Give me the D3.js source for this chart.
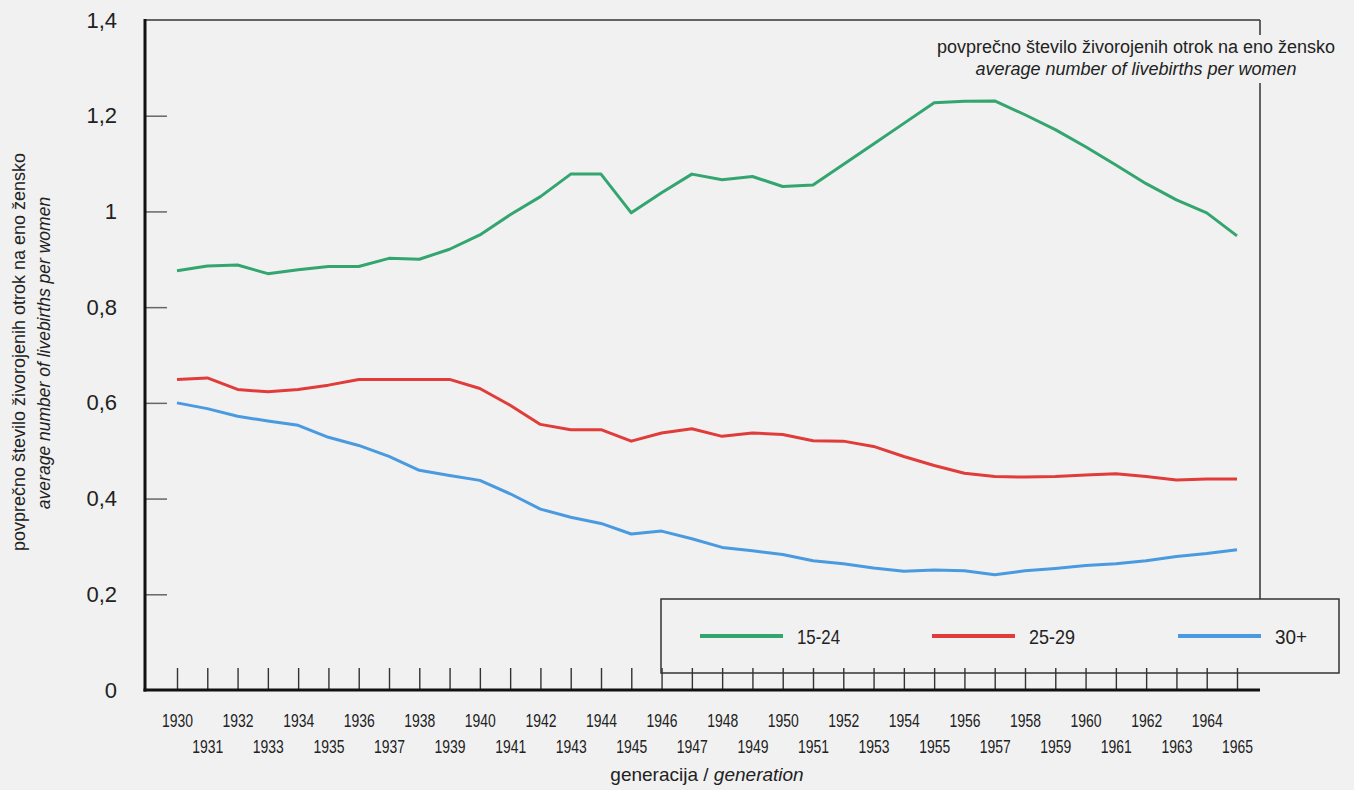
<!DOCTYPE html>
<html>
<head>
<meta charset="utf-8">
<script src="https://cdn.jsdelivr.net/npm/d3@7"></script>
<style>
  body { margin: 0; background: #f1f1f1; }
  svg { display: block; }
  text { fill: #222; }
</style>
</head>
<body>
<div id="container"></div>
<script>
// generacije 1930 - 1965
const years = [1930, 1931, 1932, 1933, 1934, 1935, 1936, 1937, 1938, 1939,
               1940, 1941, 1942, 1943, 1944, 1945, 1946, 1947, 1948, 1949,
               1950, 1951, 1952, 1953, 1954, 1955, 1956, 1957, 1958, 1959,
               1960, 1961, 1962, 1963, 1964, 1965];

const age1524 = [0.876, 0.886, 0.888, 0.870, 0.878, 0.885, 0.885, 0.902, 0.900, 0.921,
                 0.951, 0.993, 1.031, 1.078, 1.078, 0.997, 1.039, 1.078, 1.066, 1.073,
                 1.052, 1.055, 1.098, 1.141, 1.184, 1.227, 1.230, 1.231, 1.202, 1.171,
                 1.135, 1.097, 1.058, 1.024, 0.997, 0.949];
const age2529 = [0.649, 0.652, 0.628, 0.623, 0.628, 0.637, 0.649, 0.649, 0.649, 0.649,
                 0.630, 0.595, 0.555, 0.544, 0.544, 0.520, 0.537, 0.546, 0.530, 0.537,
                 0.534, 0.521, 0.520, 0.509, 0.488, 0.469, 0.453, 0.446, 0.445, 0.446,
                 0.449, 0.452, 0.446, 0.439, 0.441, 0.441];
const age30 = [0.600, 0.588, 0.572, 0.562, 0.553, 0.528, 0.511, 0.488, 0.459, 0.448,
               0.438, 0.410, 0.378, 0.361, 0.348, 0.326, 0.332, 0.316, 0.298, 0.291,
               0.283, 0.270, 0.264, 0.255, 0.248, 0.251, 0.249, 0.241, 0.249, 0.254,
               0.260, 0.264, 0.270, 0.279, 0.285, 0.293];

const seriesNames = ['15-24', '25-29', '30+'];
const yTicks = [0, 0.2, 0.4, 0.6, 0.8, 1, 1.2, 1.4];
const yTickLabels = ['0', '0,2', '0,4', '0,6', '0,8', '1', '1,2', '1,4'];

const WIDTH = 1354;
const HEIGHT = 790;
const COLORS = ['#33a56f', '#e03c3a', '#4a9ae0'];
const SANS = '"Liberation Sans", Arial, Helvetica, sans-serif';

const svg = d3.select('#container')
  .append('svg')
  .attr('width', WIDTH)
  .attr('height', HEIGHT);

const x = d3.scaleLinear().domain([1930, 1965]).range([177, 1237]);
const y = d3.scaleLinear().domain([0, 1.4]).range([690, 20]);

const AX_LEFT = 145, AX_RIGHT = 1260;

// okvir zgoraj in desno
svg.append('line')
  .attr('x1', AX_LEFT).attr('x2', AX_RIGHT)
  .attr('y1', y(1.4)).attr('y2', y(1.4))
  .attr('stroke', '#333').attr('stroke-width', 1.5);
svg.append('line')
  .attr('x1', AX_RIGHT).attr('x2', AX_RIGHT)
  .attr('y1', y(1.4)).attr('y2', 599)
  .attr('stroke', '#333').attr('stroke-width', 1.5);

// y os
const yAxis = svg.append('g')
  .attr('transform', `translate(${AX_LEFT},0)`)
  .call(d3.axisLeft(y).tickValues(yTicks).tickSize(-22).tickPadding(28)
    .tickFormat((d, i) => yTickLabels[i]));
yAxis.select('.domain').remove();
yAxis.selectAll('.tick line')
  .attr('stroke', '#666').attr('stroke-width', 1.5)
  .attr('display', d => (d === 0 || d === 1.4) ? 'none' : null);
yAxis.selectAll('.tick text')
  .attr('font-family', SANS).attr('font-size', 22).attr('fill', '#222');

// x os
const xAxis = svg.append('g')
  .attr('transform', `translate(0,${y(0)})`)
  .call(d3.axisBottom(x).tickValues(years).tickSize(-22).tickFormat(d => d));
xAxis.select('.domain').remove();
xAxis.selectAll('.tick line').attr('stroke', '#333').attr('stroke-width', 1.4);
xAxis.selectAll('.tick text')
  .attr('font-family', SANS).attr('font-size', 19).attr('fill', '#222')
  .attr('dy', null)
  .attr('y', d => d % 2 === 0 ? 37 : 63)
  .attr('textLength', 31).attr('lengthAdjust', 'spacingAndGlyphs');

// glavni osi
svg.append('line')
  .attr('x1', AX_LEFT).attr('x2', AX_LEFT)
  .attr('y1', y(1.4) - 1).attr('y2', y(0) + 1.5)
  .attr('stroke', '#111').attr('stroke-width', 3);
svg.append('line')
  .attr('x1', AX_LEFT - 1.5).attr('x2', AX_RIGHT)
  .attr('y1', y(0)).attr('y2', y(0))
  .attr('stroke', '#111').attr('stroke-width', 3);

// crte
const line = d3.line()
  .x((d, i) => x(years[i]))
  .y(d => y(d));

[age1524, age2529, age30].forEach((s, k) => {
  svg.append('path')
    .datum(s)
    .attr('fill', 'none')
    .attr('stroke', COLORS[k])
    .attr('stroke-width', 3)
    .attr('stroke-linejoin', 'round')
    .attr('d', line);
});

// naslov desno zgoraj
svg.append('rect')
  .attr('x', 925).attr('y', 35).attr('width', 420).attr('height', 48)
  .attr('fill', '#f1f1f1');
svg.append('text')
  .attr('x', 1136).attr('y', 53)
  .attr('text-anchor', 'middle')
  .attr('font-family', SANS).attr('font-size', 18)
  .text('povprečno število živorojenih otrok na eno žensko');
svg.append('text')
  .attr('x', 1136).attr('y', 75)
  .attr('text-anchor', 'middle')
  .attr('font-family', SANS).attr('font-size', 18).attr('font-style', 'italic')
  .text('average number of livebirths per women');

// naslov y osi
svg.append('text')
  .attr('transform', 'translate(25,352) rotate(-90)')
  .attr('text-anchor', 'middle')
  .attr('font-family', SANS).attr('font-size', 18)
  .text('povprečno število živorojenih otrok na eno žensko');
svg.append('text')
  .attr('transform', 'translate(50,353) rotate(-90)')
  .attr('text-anchor', 'middle')
  .attr('font-family', SANS).attr('font-size', 17.5).attr('font-style', 'italic')
  .text('average number of livebirths per women');

// naslov x osi
const xt = svg.append('text')
  .attr('x', 707).attr('y', 781)
  .attr('text-anchor', 'middle')
  .attr('font-family', SANS).attr('font-size', 19);
xt.append('tspan').text('generacija / ');
xt.append('tspan').attr('font-style', 'italic').text('generation');

// legenda
svg.append('rect')
  .attr('x', 661).attr('y', 599).attr('width', 678).attr('height', 74)
  .attr('fill', 'none').attr('stroke', '#333').attr('stroke-width', 1.5);

const legendX = [700, 932, 1178];
const legendW = [43, 46, 32];
const legend = svg.selectAll('.legend')
  .data(seriesNames)
  .enter()
  .append('g')
  .attr('class', 'legend')
  .attr('transform', (d, i) => `translate(${legendX[i]},636)`);
legend.append('line')
  .attr('x1', 0).attr('x2', 83)
  .attr('stroke', (d, i) => COLORS[i]).attr('stroke-width', 4);
legend.append('text')
  .attr('x', 97).attr('y', 8)
  .attr('font-family', SANS).attr('font-size', 21)
  .attr('textLength', (d, i) => legendW[i]).attr('lengthAdjust', 'spacingAndGlyphs')
  .text(d => d);
</script>
</body>
</html>
